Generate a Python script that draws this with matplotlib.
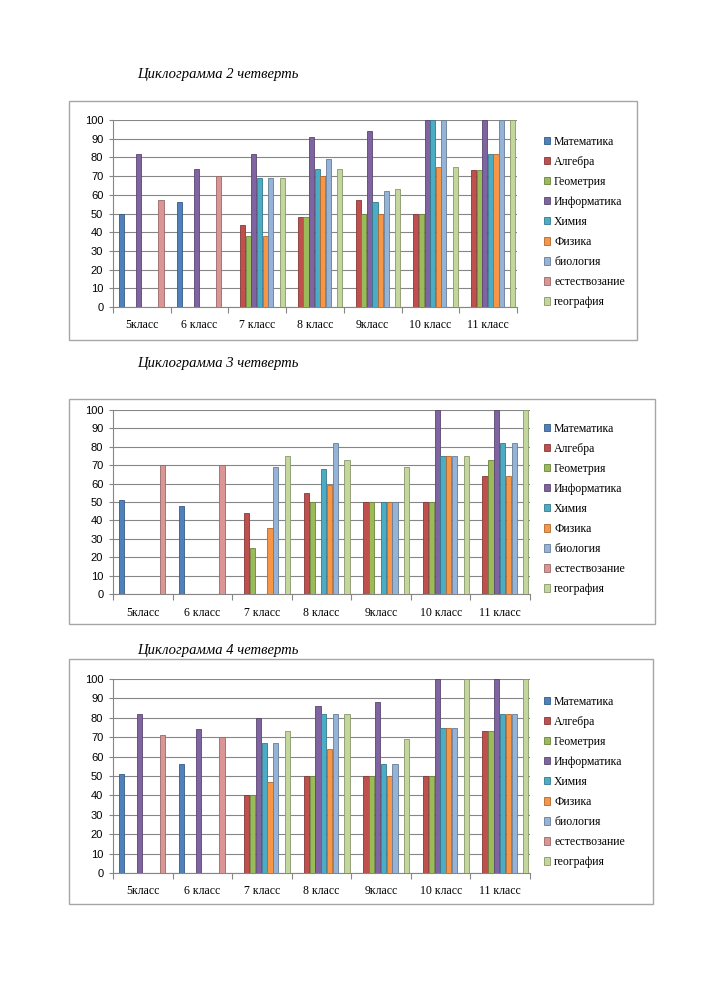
import numpy as np
import matplotlib
matplotlib.use('Agg')
import matplotlib.pyplot as plt
from matplotlib.patches import Rectangle
from matplotlib.colors import to_rgb

W, H = 712, 1008

classes = ['5класс', '6 класс', '7 класс', '8 класс', '9класс', '10 класс', '11 класс']
subjects = ['Математика', 'Алгебра', 'Геометрия', 'Информатика', 'Химия', 'Физика',
            'биология', 'естествозание', 'география']
colors = ['#4F81BD', '#C0504D', '#9BBB59', '#8064A2', '#4BACC6', '#F79646',
          '#95B3D7', '#D99694', '#C3D69B']

n = np.nan
# values per subject, one entry per class
q2 = [[50, 56, n, n, n, n, n],
      [n, n, 44, 48, 57, 50, 73],
      [n, n, 38, 48, 50, 50, 73],
      [82, 74, 82, 91, 94, 100, 100],
      [n, n, 69, 74, 56, 100, 82],
      [n, n, 38, 70, 50, 75, 82],
      [n, n, 69, 79, 62, 100, 100],
      [57, 70, n, n, n, n, n],
      [n, n, 69, 74, 63, 75, 100]]

q3 = [[51, 48, n, n, n, n, n],
      [n, n, 44, 55, 50, 50, 64],
      [n, n, 25, 50, 50, 50, 73],
      [n, n, n, n, n, 100, 100],
      [n, n, n, 68, 50, 75, 82],
      [n, n, 36, 59, 50, 75, 64],
      [n, n, 69, 82, 50, 75, 82],
      [70, 70, n, n, n, n, n],
      [n, n, 75, 73, 69, 75, 100]]

q4 = [[51, 56, n, n, n, n, n],
      [n, n, 40, 50, 50, 50, 73],
      [n, n, 40, 50, 50, 50, 73],
      [82, 74, 80, 86, 88, 100, 100],
      [n, n, 67, 82, 56, 75, 82],
      [n, n, 47, 64, 50, 75, 82],
      [n, n, 67, 82, 56, 75, 82],
      [71, 70, n, n, n, n, n],
      [n, n, 73, 82, 69, 100, 100]]

titles = ['Циклограмма 2 четверть', 'Циклограмма 3 четверть', 'Циклограмма 4 четверть']

# layout in pixels: frame (l, t, r, b), axes (l, t, r, b), title y, legend top y
frames = [(69, 101, 637, 340), (69, 399, 655, 624), (69, 659, 653, 904)]
axboxes = [(113, 120, 517, 307), (113, 410, 530, 594), (113, 679, 530, 873)]
title_y = [78, 367, 654]
legend_y = [136, 423, 696]

fig = plt.figure(figsize=(W / 100, H / 100), dpi=100)

serif = 'Liberation Serif'
sans = 'Liberation Sans'


def darker(c, f=0.7):
    r, g, b = to_rgb(c)
    return (r * f, g * f, b * f)


for k, data in enumerate([q2, q3, q4]):
    fl, ft, fr, fb = frames[k]
    fig.patches.append(Rectangle((fl / W, 1 - fb / H), (fr - fl) / W, (fb - ft) / H,
                                 transform=fig.transFigure, fill=False,
                                 edgecolor='#a6a6a6', linewidth=1))
    fig.text(137 / W, 1 - title_y[k] / H, titles[k], fontsize=10.5, style='italic',
             family=serif, va='baseline')

    l, t, r, b = axboxes[k]
    ax = fig.add_axes([l / W, 1 - b / H, (r - l) / W, (b - t) / H])
    x = np.arange(len(classes))
    slot = 0.0975
    bw = 0.088
    bars = []
    for j, vals in enumerate(data):
        bc = ax.bar(x + 0.105 + j * slot, vals, width=bw, align='edge',
                    color=colors[j], edgecolor=darker(colors[j]), linewidth=0.6,
                    label=subjects[j], zorder=3)
        bars.append(bc)

    ax.set_xlim(0, len(classes))
    ax.set_ylim(0, 100)
    ax.set_yticks(range(0, 101, 10))
    ax.set_xticks(range(len(classes) + 1))
    ax.set_xticklabels([])
    ax.set_xticks(x + 0.5, minor=True)
    ax.set_xticklabels(classes, minor=True, fontsize=8.5, family=serif)
    ax.tick_params(axis='x', which='minor', length=0, pad=9)
    ax.tick_params(axis='x', which='major', length=4, color='#868686')
    ax.tick_params(axis='y', length=3, color='#868686', labelsize=8, pad=4)
    for lab in ax.get_yticklabels():
        lab.set_family(sans)
    ax.yaxis.grid(True, color='#868686', linewidth=0.8, zorder=0)
    for s in ['top', 'right']:
        ax.spines[s].set_visible(False)
    for s in ['left', 'bottom']:
        ax.spines[s].set_color('#868686')
        ax.spines[s].set_linewidth(0.8)

    ax.legend(handles=bars, loc='upper left', bbox_to_anchor=(544 / W, 1 - legend_y[k] / H),
              bbox_transform=fig.transFigure, frameon=False, prop={'family': serif, 'size': 8.5},
              handlelength=0.55, handleheight=0.55, handletextpad=0.3, labelspacing=0.68,
              borderpad=0, borderaxespad=0)

fig.savefig('out.png', dpi=100)
